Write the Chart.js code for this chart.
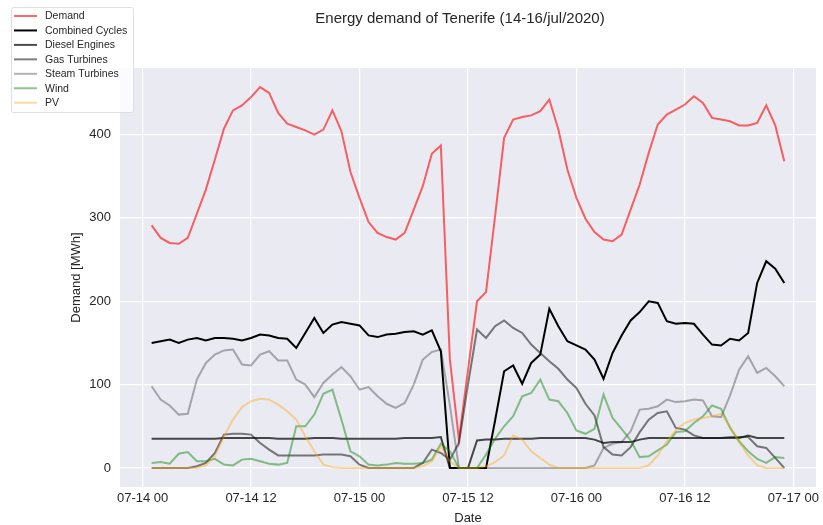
<!DOCTYPE html>
<html>
<head>
<meta charset="utf-8">
<title>Energy demand of Tenerife</title>
<script src="https://cdn.jsdelivr.net/npm/chart.js@4.4.1/dist/chart.umd.min.js"></script>
<style>
  html, body { margin: 0; padding: 0; background: #ffffff; }
  canvas { display: block; }
</style>
</head>
<body>
<canvas id="chart" width="823" height="525"></canvas>
<script>
// Hourly timestamps (month-day hour)
const times = [
  '07-14 01','07-14 02','07-14 03','07-14 04','07-14 05','07-14 06','07-14 07','07-14 08',
  '07-14 09','07-14 10','07-14 11','07-14 12','07-14 13','07-14 14','07-14 15','07-14 16',
  '07-14 17','07-14 18','07-14 19','07-14 20','07-14 21','07-14 22','07-14 23',
  '07-15 00','07-15 01','07-15 02','07-15 03','07-15 04','07-15 05','07-15 06','07-15 07',
  '07-15 08','07-15 09','07-15 10','07-15 11','07-15 12','07-15 13','07-15 14','07-15 15',
  '07-15 16','07-15 17','07-15 18','07-15 19','07-15 20','07-15 21','07-15 22','07-15 23',
  '07-16 00','07-16 01','07-16 02','07-16 03','07-16 04','07-16 05','07-16 06','07-16 07',
  '07-16 08','07-16 09','07-16 10','07-16 11','07-16 12','07-16 13','07-16 14','07-16 15',
  '07-16 16','07-16 17','07-16 18','07-16 19','07-16 20','07-16 21','07-16 22','07-16 23'
];

// MWh per hour
const demand = [
  291,276,270,269,276,305,334,370,407,429,435,445,457,450,426,413,409,405,400,406,429,404,355,
  324,295,282,277,274,282,310,338,377,387,130,34,117,200,211,302,396,418,421,423,428,442,406,358,
  324,299,283,274,272,280,310,340,378,412,424,430,436,446,438,420,418,416,411,411,414,435,411,368
];
const combinedCycles = [
  150,152,154,150,154,156,153,156,156,155,153,156,160,159,156,155,144,162,180,162,172,175,173,
  171,159,157,160,161,163,164,160,165,140,0,0,0,0,0,57,116,123,101,126,136,191,170,152,
  147,142,130,107,138,159,177,187,200,198,176,173,174,173,160,148,147,155,153,162,222,248,239,222
];
const dieselEngines = [
  35,35,35,35,35,35,35,35,36,36,36,36,36,36,35,35,35,35,36,36,36,35,35,
  35,35,35,35,35,36,36,36,36,37,0,0,0,33,34,34,35,35,35,35,36,36,36,36,
  36,36,34,30,31,31,31,34,36,36,36,36,36,36,36,36,36,36,36,39,36,36,36,36
];
const gasTurbines = [
  0,0,0,0,0,2,6,18,40,41,41,40,30,22,15,15,15,15,15,16,16,16,14,
  4,0,0,0,0,0,0,6,22,18,10,30,100,166,156,170,177,168,162,148,138,128,119,106,
  96,77,63,25,16,15,25,43,58,66,68,48,46,39,36,36,36,37,37,37,26,24,12,0
];
const steamTurbines = [
  98,82,75,64,65,106,126,136,141,142,124,123,136,140,129,129,106,100,85,102,112,121,110,
  94,97,86,77,72,78,100,130,139,142,75,0,0,0,0,0,0,0,0,0,0,0,0,0,
  0,0,3,24,29,31,44,70,71,74,82,79,80,82,81,62,61,87,118,134,114,120,110,98
];
const wind = [
  6,7,5,17,19,8,8,11,4,3,10,11,8,5,4,6,50,50,64,89,94,58,20,
  14,4,3,4,6,5,5,6,10,29,20,0,0,0,16,35,50,62,86,90,106,82,80,66,
  45,41,47,88,60,47,33,13,14,21,28,43,44,54,62,75,71,48,32,20,11,6,13,12
];
const pv = [
  0,0,0,0,0,0,3,14,38,58,73,80,83,82,76,68,58,38,20,4,1,0,0,
  0,0,0,0,0,0,0,2,8,26,8,0,0,0,2,7,15,39,34,20,12,4,0,0,
  0,0,0,0,0,0,0,0,3,15,32,45,54,58,60,62,65,50,31,15,3,0,0,0
];

const seriesNames = ['Demand', 'Combined Cycles', 'Diesel Engines', 'Gas Turbines', 'Steam Turbines', 'Wind', 'PV'];
const seriesValues = [demand, combinedCycles, dieselEngines, gasTurbines, steamTurbines, wind, pv];
const seriesColors = [
  'rgba(255,0,0,0.6)',
  'rgba(0,0,0,1)',
  'rgba(0,0,0,0.7)',
  'rgba(0,0,0,0.5)',
  'rgba(0,0,0,0.3)',
  'rgba(0,128,0,0.45)',
  'rgba(255,165,0,0.4)'
];

const xTickLabels = ['07-14 00', '07-14 12', '07-15 00', '07-15 12', '07-16 00', '07-16 12', '07-17 00'];
const yTickValues = [0, 100, 200, 300, 400];

const chartTitle = 'Energy demand of Tenerife (14-16/jul/2020)';
const FONT = "'Liberation Sans', Arial, Helvetica, sans-serif";
const TEXT = '#262626';

// Hours elapsed since 07-14 00
function toHours(s) {
  const day = parseInt(s.slice(3, 5), 10) - 14;
  const hr = parseInt(s.slice(6, 8), 10);
  return day * 24 + hr;
}
const xHours = times.map(toHours);
const xTickHours = xTickLabels.map(toHours);

// 5% margins around the data, as in the original plotting defaults
const allVals = seriesValues.flat();
const yMaxData = Math.max(...allVals), yMinData = Math.min(...allVals);
const ySpan = yMaxData - yMinData;
const xMinData = Math.min(...xHours), xMaxData = Math.max(...xHours);
const xSpan = xMaxData - xMinData;

const datasets = seriesNames.map((name, i) => ({
  label: name,
  data: seriesValues[i].map((v, j) => ({ x: xHours[j], y: v })),
  borderColor: seriesColors[i],
  backgroundColor: seriesColors[i],
  borderWidth: 2,
  pointRadius: 0,
  tension: 0,
  fill: false,
  order: seriesNames.length - i
}));

const plotBackground = {
  id: 'plotBackground',
  beforeDraw(chart) {
    const { ctx, chartArea: a } = chart;
    ctx.save();
    ctx.fillStyle = '#EAEAF2';
    ctx.fillRect(a.left, a.top, a.right - a.left, a.bottom - a.top);
    ctx.restore();
  }
};

const titleAndLegend = {
  id: 'titleAndLegend',
  afterDraw(chart) {
    const ctx = chart.ctx;
    ctx.save();
    // title
    ctx.fillStyle = TEXT;
    ctx.font = '15px ' + FONT;
    ctx.textAlign = 'center';
    ctx.textBaseline = 'middle';
    ctx.fillText(chartTitle, 460, 19);

    // legend box
    const bx = 11, by = 7, bw = 122, bh = 105;
    ctx.fillStyle = 'rgba(255,255,255,0.8)';
    ctx.strokeStyle = 'rgba(215,215,220,0.8)';
    ctx.lineWidth = 1;
    ctx.beginPath();
    if (ctx.roundRect) ctx.roundRect(bx + 0.5, by + 0.5, bw, bh, 2); else ctx.rect(bx + 0.5, by + 0.5, bw, bh);
    ctx.fill();
    ctx.stroke();

    ctx.font = '10.5px ' + FONT;
    ctx.textAlign = 'left';
    seriesNames.forEach((name, i) => {
      const y = 16 + i * 14.45;
      ctx.strokeStyle = seriesColors[i];
      ctx.lineWidth = 2;
      ctx.beginPath();
      ctx.moveTo(14, y);
      ctx.lineTo(37, y);
      ctx.stroke();
      ctx.fillStyle = TEXT;
      ctx.fillText(name, 45, y + 0.5);
    });
    ctx.restore();
  }
};

Chart.defaults.font.family = FONT;
Chart.defaults.color = TEXT;

new Chart(document.getElementById('chart'), {
  type: 'line',
  data: { datasets },
  options: {
    responsive: false,
    animation: false,
    devicePixelRatio: 1,
    layout: { padding: { left: 0, top: 68, right: 0, bottom: 0 } },
    plugins: {
      legend: { display: false },
      title: { display: false },
      tooltip: { enabled: false }
    },
    scales: {
      x: {
        type: 'linear',
        min: xMinData - 0.05 * xSpan,
        max: xMaxData + 0.05 * xSpan,
        afterBuildTicks(scale) { scale.ticks = xTickHours.map(v => ({ value: v })); },
        afterFit(scale) { scale.height = 38; },
        ticks: {
          autoSkip: false,
          maxRotation: 0,
          padding: 4,
          font: { size: 13 },
          color: TEXT,
          callback(value) {
            const k = xTickHours.indexOf(value);
            return k >= 0 ? xTickLabels[k] : '';
          }
        },
        grid: { color: '#ffffff', lineWidth: 1.2, drawTicks: false },
        border: { display: false },
        title: { display: true, text: 'Date', font: { size: 13, lineHeight: 1 }, color: TEXT, padding: 0 }
      },
      y: {
        type: 'linear',
        min: yMinData - 0.05 * ySpan,
        max: yMaxData + 0.05 * ySpan,
        afterBuildTicks(scale) { scale.ticks = yTickValues.map(v => ({ value: v })); },
        afterFit(scale) { scale.width = 120; },
        ticks: { padding: 9, font: { size: 13 }, color: TEXT },
        grid: { color: '#ffffff', lineWidth: 1.2, drawTicks: false },
        border: { display: false },
        title: { display: true, text: 'Demand [MWh]', font: { size: 13 }, color: TEXT, padding: { top: 69, bottom: 0 } }
      }
    }
  },
  plugins: [plotBackground, titleAndLegend]
});
</script>
</body>
</html>
